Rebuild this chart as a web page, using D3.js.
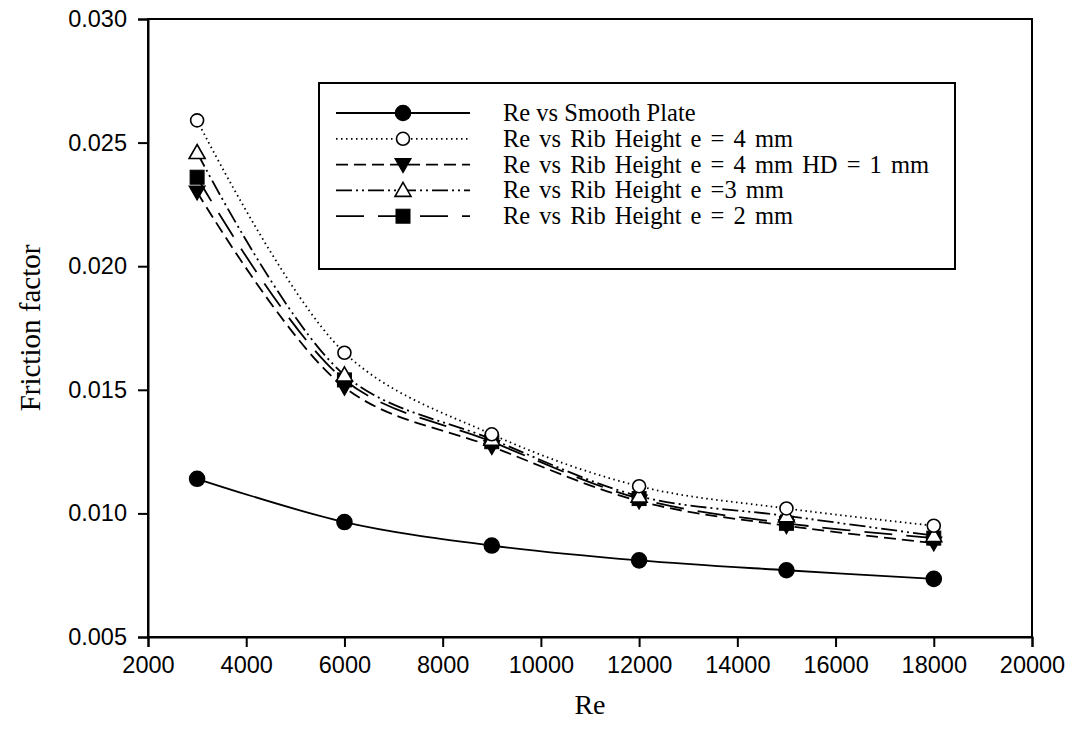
<!DOCTYPE html>
<html><head><meta charset="utf-8">
<script src="https://cdn.jsdelivr.net/npm/d3@7"></script>
<style>body{margin:0;background:#fff}</style>
</head><body>
<svg id="c" width="1077" height="749"></svg>
<script>
const reValues = [3000, 6000, 9000, 12000, 15000, 18000];
const smoothPlate = [0.0114, 0.00965, 0.0087, 0.0081, 0.0077, 0.00735];
const ribE4 = [0.0259, 0.0165, 0.0132, 0.0111, 0.0102, 0.0095];
const ribE4HD1 = [0.0230, 0.0151, 0.0127, 0.0105, 0.0095, 0.0088];
const ribE3 = [0.0246, 0.0156, 0.0130, 0.0107, 0.0099, 0.0091];
const ribE2 = [0.0236, 0.0154, 0.0129, 0.0106, 0.0096, 0.0090];
const seriesNames = ["Re vs Smooth Plate", "Re vs Rib Height e = 4 mm", "Re vs Rib Height e = 4 mm HD = 1 mm", "Re vs Rib Height e =3 mm", "Re vs Rib Height e = 2 mm"];
const xTicks = [2000, 4000, 6000, 8000, 10000, 12000, 14000, 16000, 18000, 20000];
const yTicks = [0.005, 0.010, 0.015, 0.020, 0.025, 0.030];

const series = [
  {name: seriesNames[0], vals: smoothPlate, dash: null, marker: "circle", fill: "#000"},
  {name: seriesNames[1], vals: ribE4, dash: "1.5,3.5", marker: "circle", fill: "#fff"},
  {name: seriesNames[2], vals: ribE4HD1, dash: "12,6", marker: "down", fill: "#000"},
  {name: seriesNames[3], vals: ribE3, dash: "16,4,2,4,2,4", marker: "up", fill: "#fff"},
  {name: seriesNames[4], vals: ribE2, dash: "28,14", marker: "square", fill: "#000"}
];

const svg = d3.select("#c");
const L = 148, R = 1032, T = 19, B = 637;
const x = d3.scaleLinear().domain([2000, 20000]).range([L, R]);
const y = d3.scaleLinear().domain([0.005, 0.030]).range([B, T]);

svg.append("rect").attr("x", L).attr("y", T).attr("width", R - L).attr("height", B - T)
  .attr("fill", "none").attr("stroke", "#000").attr("stroke-width", 2);

const xAxis = svg.append("g").attr("transform", `translate(0,${B})`)
  .call(d3.axisBottom(x).tickValues(xTicks).tickFormat(d3.format("d")).tickSize(10).tickPadding(9));
const yAxis = svg.append("g").attr("transform", `translate(${L},0)`)
  .call(d3.axisLeft(y).tickValues(yTicks).tickFormat(d3.format(".3f")).tickSize(10).tickPadding(11));
[xAxis, yAxis].forEach(g => {
  g.select(".domain").attr("stroke-width", 2);
  g.selectAll(".tick line").attr("stroke-width", 2);
  g.selectAll("text").attr("font-family", "Liberation Sans, Arial, sans-serif").attr("font-size", 23.5).attr("fill", "#000");
});

svg.append("text").attr("x", 590).attr("y", 714).attr("text-anchor", "middle")
  .attr("font-family", "Liberation Serif, Times New Roman, serif").attr("font-size", 28).text("Re");
svg.append("text").attr("transform", "translate(40,328) rotate(-90)").attr("text-anchor", "middle")
  .attr("font-family", "Liberation Serif, Times New Roman, serif").attr("font-size", 29).text("Friction factor");

function drawMarker(g, type, fill, cx, cy) {
  if (type === "circle") {
    g.append("circle").attr("cx", cx).attr("cy", cy).attr("r", fill === "#000" ? 7.5 : 6.5)
      .attr("fill", fill).attr("stroke", "#000").attr("stroke-width", 1.6);
  } else if (type === "square") {
    g.append("rect").attr("x", cx - 7).attr("y", cy - 7).attr("width", 14).attr("height", 14)
      .attr("fill", fill).attr("stroke", "#000").attr("stroke-width", 1);
  } else if (type === "up") {
    g.append("path").attr("d", `M${cx},${cy - 8}L${cx + 8},${cy + 6}L${cx - 8},${cy + 6}Z`)
      .attr("fill", fill).attr("stroke", "#000").attr("stroke-width", 1.6);
  } else if (type === "down") {
    g.append("path").attr("d", `M${cx},${cy + 8}L${cx + 8},${cy - 6}L${cx - 8},${cy - 6}Z`)
      .attr("fill", fill).attr("stroke", "#000").attr("stroke-width", 1.2);
  }
}

const line = d3.line().x((d, i) => x(reValues[i])).y(d => y(d)).curve(d3.curveCatmullRom.alpha(0.5));

const drawOrder = [0, 2, 4, 3, 1];
drawOrder.forEach(k => {
  const s = series[k];
  svg.append("path").datum(s.vals).attr("d", line).attr("fill", "none").attr("stroke", "#000")
    .attr("stroke-width", 1.8).attr("stroke-dasharray", s.dash);
});
const mg = svg.append("g");
drawOrder.forEach(k => {
  const s = series[k];
  s.vals.forEach((v, i) => drawMarker(mg, s.marker, s.fill, x(reValues[i]), y(v)));
});

const lg = svg.append("g");
lg.append("rect").attr("x", 319).attr("y", 83).attr("width", 636).attr("height", 186)
  .attr("fill", "#fff").attr("stroke", "#000").attr("stroke-width", 2);
series.forEach((s, i) => {
  const ly = 113 + i * 25.8;
  lg.append("line").attr("x1", 336).attr("x2", 470).attr("y1", ly).attr("y2", ly)
    .attr("stroke", "#000").attr("stroke-width", 1.8).attr("stroke-dasharray", s.dash);
  drawMarker(lg, s.marker, s.fill, 403, ly);
  lg.append("text").attr("x", 503).attr("y", ly + 8)
    .attr("font-family", "Liberation Serif, Times New Roman, serif").attr("font-size", 24.5)
    .attr("word-spacing", i === 0 ? 0 : 3).text(s.name);
});
</script>
</body></html>
